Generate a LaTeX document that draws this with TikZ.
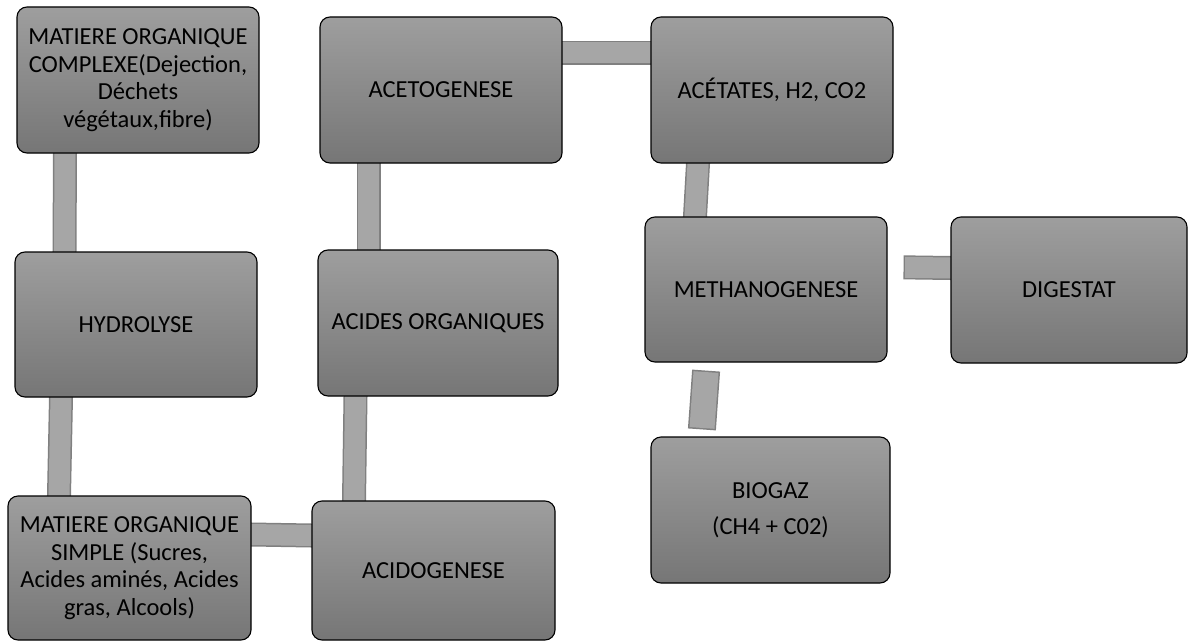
\documentclass[tikz,border=0pt]{standalone}
\usepackage{fontspec}
\setmainfont{Carlito}
\usetikzlibrary{backgrounds}
\definecolor{boxtop}{RGB}{158,158,158}
\definecolor{boxbot}{RGB}{118,118,118}
\definecolor{linkfill}{RGB}{166,166,166}
\definecolor{linkedge}{RGB}{128,128,128}
\begin{document}
\begin{tikzpicture}[x=1pt,y=-1pt,
  box/.style={rectangle, rounded corners=10pt, draw=black, line width=1.1pt,
    top color=boxtop, bottom color=boxbot, align=center, inner sep=2pt,
    minimum width=242pt, minimum height=146pt,
    font=\fontsize{24.5}{27.5}\selectfont},
  link/.style={draw=linkedge, line width=1.5pt, double=linkfill,
    double distance=21pt, line cap=rect}]
\useasboundingbox (0,0) rectangle (1188,642);
\node[box] (cplx) at (138,80) {MATIERE ORGANIQUE\\COMPLEXE(Dejection,\\Déchets\\végétaux,fibre)};
\node[box, minimum height=145pt] (hydro) at (136,324.5) {HYDROLYSE};
\node[box, minimum width=243pt, minimum height=144pt] (simple) at (129.5,568) {MATIERE ORGANIQUE\\SIMPLE (Sucres,\\Acides aminés, Acides\\gras, Alcools)};
\node[box, minimum width=243pt, minimum height=139pt] (acido) at (433.5,570.5) {ACIDOGENESE};
\node[box, minimum width=240pt] (acides) at (438,323) {ACIDES ORGANIQUES};
\node[box] (aceto) at (441,90) {ACETOGENESE};
\node[box] (acet) at (772,90) {ACÉTATES, H2, CO2};
\node[box, minimum height=145pt] (metha) at (766,289.5) {METHANOGENESE};
\node[box, minimum width=236pt] (dig) at (1069,290) {DIGESTAT};
\node[box, minimum width=239pt] (gaz) at (770.5,510) {BIOGAZ\\[9pt](CH4 + C02)};
\coordinate (digin) at ([xshift=28pt,yshift=22pt]metha.east);
\coordinate (gastop) at ([xshift=-60.9pt,yshift=-22pt]metha.south);
\coordinate (gasbot) at ([xshift=-67.6pt,yshift=21pt]gaz.north);
\begin{scope}[on background layer]
\fill[white] (0,0) rectangle (1188,642);
\draw[link] ([xshift=-73pt]cplx.south) -- ([xshift=-71.5pt]hydro.north);
\draw[link] ([xshift=-75pt]hydro.south) -- ([xshift=-70.5pt]simple.north);
\draw[link] ([yshift=33.5pt]simple.east) -- ([yshift=35pt]acido.west);
\draw[link] ([xshift=-79.5pt]acido.north) -- ([xshift=-82.5pt]acides.south);
\draw[link] ([xshift=-69.5pt]acides.north) -- ([xshift=-72.5pt]aceto.south);
\draw[link] ([yshift=37pt]aceto.east) -- ([yshift=37pt]acet.west);
\draw[link] ([xshift=-74pt]acet.south) -- ([xshift=-71pt]metha.north);
\draw[link] (digin) -- ([yshift=22pt]dig.west);
\draw[link, double distance=25pt] (gastop) -- (gasbot);
\end{scope}
\end{tikzpicture}
\end{document}
